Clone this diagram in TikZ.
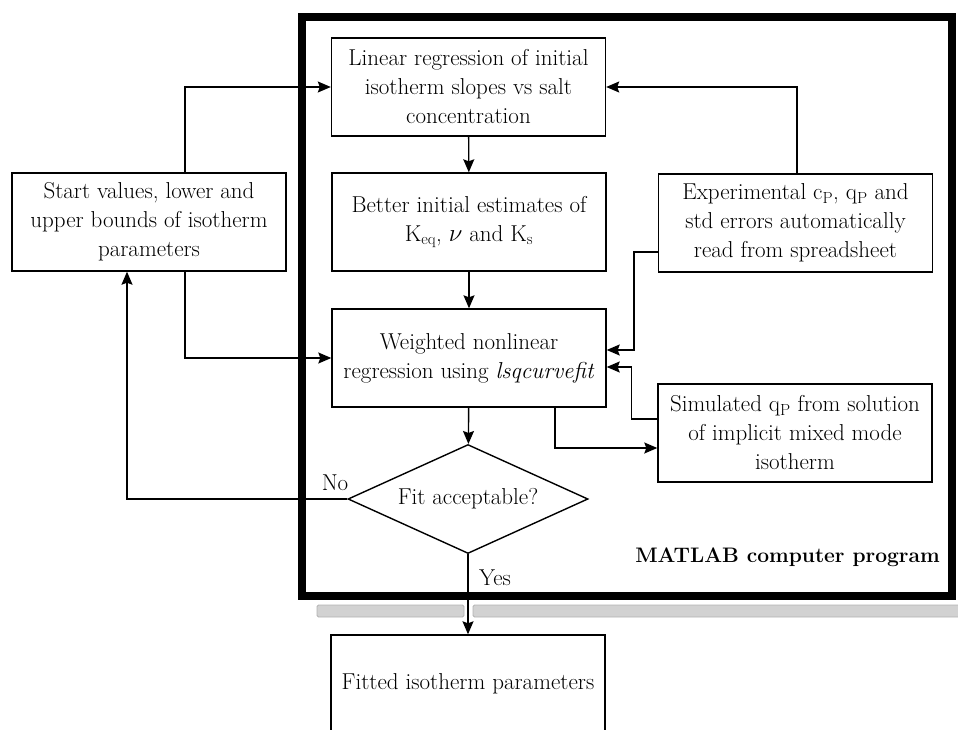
\documentclass[tikz,border=0pt]{standalone}
\usetikzlibrary{arrows.meta,shapes.geometric}
\begin{document}
\begin{tikzpicture}[x=1pt,y=-1pt,
  box/.style={draw,line width=1.4pt,minimum width=274pt,minimum height=98pt,inner sep=2pt,align=center,font=\fontsize{23}{29}\selectfont},
  dec/.style={draw,diamond,line width=1.4pt,minimum width=240pt,minimum height=109pt,inner sep=0pt,aspect=2.2,font=\fontsize{23}{29}\selectfont},
  lbl/.style={inner sep=0pt,font=\fontsize{23}{26}\selectfont},
  arr/.style={line width=1.4pt,-{Stealth[length=13pt,width=11pt,inset=2pt]}},
  ln/.style={line width=1.4pt}]
\useasboundingbox (0,0) rectangle (958,729);
\begin{scope}
\clip (0,0) rectangle (958,729);
% gray shadow bar
\fill[gray!35,draw=gray!60,line width=0.8pt,rounded corners=1.5pt] (317,605) rectangle (464,617);
\fill[gray!35,draw=gray!60,line width=0.8pt,rounded corners=1.5pt] (473,605) rectangle (962,617);
% frame
\draw[line width=8pt] (302,17) rectangle (952,596);
% nodes
\node[box] (b1) at (468.5,87) {Linear regression of initial\\isotherm slopes vs salt\\concentration};
\node[box] (b2) at (469,222) {Better initial estimates of\\K\textsubscript{eq}, $\nu$ and K\textsubscript{s}};
\node[box] (b3) at (469,358) {Weighted nonlinear\\regression using \textit{lsqcurvefit}};
\node[box] (st) at (149,222) {Start values, lower and\\upper bounds of isotherm\\parameters};
\node[box] (ex) at (795.5,223) {Experimental c\textsubscript{P}, q\textsubscript{P} and\\std errors automatically\\read from spreadsheet};
\node[box] (si) at (795,433) {Simulated q\textsubscript{P} from solution\\of implicit mixed mode\\isotherm};
\node[dec] (dia) at (468,499) {Fit acceptable?};
\node[box] (fit) at (468,684) {Fitted isotherm parameters};
% labels
\node[lbl] (no) at (335,483) {No};
\node[lbl] (yes) at (495,578) {Yes};
\node[lbl,anchor=east,font=\fontsize{21}{24}\selectfont\bfseries] (mat) at (940,557) {MATLAB computer program};
% connectors
\draw[arr] (b1) -- (b2);
\draw[arr] (b2) -- (b3);
\draw[arr] (b3) -- (dia);
\draw[arr] (dia) -- (fit);
\draw[arr] ([xshift=36pt]st.north) |- (b1.west);
\draw[arr] ([xshift=36pt]st.south) |- (b3.west);
\draw[arr] (dia.west) -| ([xshift=-22pt]st.south);
\draw[arr] ([xshift=1.5pt]ex.north) |- (b1.east);
\draw[arr] ([yshift=-29pt]ex.west) -- ++(-24,0) |- ([yshift=8pt]b3.east);
\draw[arr] ([yshift=14pt]si.west) -- ++(-26,0) |- ([yshift=-9pt]b3.east);
\draw[arr] ([xshift=86pt]b3.south) |- ([yshift=-15pt]si.west);
\end{scope}
\end{tikzpicture}
\end{document}
